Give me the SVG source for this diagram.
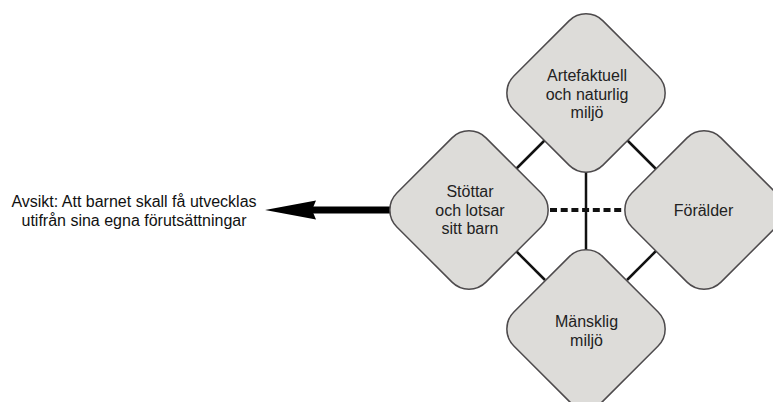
<svg xmlns="http://www.w3.org/2000/svg" width="773" height="402" viewBox="0 0 773 402">
  <style>
    .node rect { fill: #dddcd9; stroke: #4d4a4c; stroke-width: 1.5; }
    .node text { font-family: "Liberation Sans", Arial, sans-serif; font-size: 16px; fill: #222; text-anchor: middle; }
    .goal { font-family: "Liberation Sans", Arial, sans-serif; font-size: 16px; fill: #111; text-anchor: middle; }
    .link { stroke: #111; stroke-width: 2.5; fill: none; }
    .dashed { stroke: #111; stroke-width: 4; stroke-dasharray: 7 3.7; fill: none; }
  </style>

  <!-- connectors -->
  <g id="connectors">
    <line class="link" x1="586" y1="171" x2="586" y2="251"/>
    <line class="dashed" x1="550" y1="210" x2="624" y2="210"/>
    <line class="link" x1="515.5" y1="169.5" x2="545" y2="140"/>
    <line class="link" x1="627" y1="140" x2="656.5" y2="169.5"/>
    <line class="link" x1="515.5" y1="250.5" x2="545" y2="280"/>
    <line class="link" x1="627" y1="280" x2="656.5" y2="250.5"/>
    <!-- intent arrow -->
    <line stroke="#000" stroke-width="7" x1="392" y1="210" x2="310" y2="210"/>
    <path d="M265,210 L316,200.5 L312,210 L316,219.5 Z" fill="#000"/>
  </g>

  <g id="node-artefaktuell" class="node">
    <rect x="523" y="30" width="126" height="126" rx="24" transform="rotate(45 586 93)"/>
    <text x="587" y="81">Artefaktuell</text>
    <text x="587" y="99.5">och naturlig</text>
    <text x="587" y="118">miljö</text>
  </g>

  <g id="node-stottar" class="node">
    <rect x="406" y="147" width="126" height="126" rx="24" transform="rotate(45 469 210)"/>
    <text x="470" y="197">Stöttar</text>
    <text x="470" y="215.5">och lotsar</text>
    <text x="470" y="234">sitt barn</text>
  </g>

  <g id="node-foralder" class="node">
    <rect x="641" y="147" width="126" height="126" rx="24" transform="rotate(45 704 210)"/>
    <text x="703.5" y="216">Förälder</text>
  </g>

  <g id="node-mansklig" class="node">
    <rect x="523" y="266" width="126" height="126" rx="24" transform="rotate(45 586 329)"/>
    <text x="586.5" y="327">Mänsklig</text>
    <text x="586.5" y="345.5">miljö</text>
  </g>

  <g id="goal">
    <text class="goal" x="134" y="207">Avsikt: Att barnet skall få utvecklas</text>
    <text class="goal" x="134" y="226">utifrån sina egna förutsättningar</text>
  </g>
</svg>
